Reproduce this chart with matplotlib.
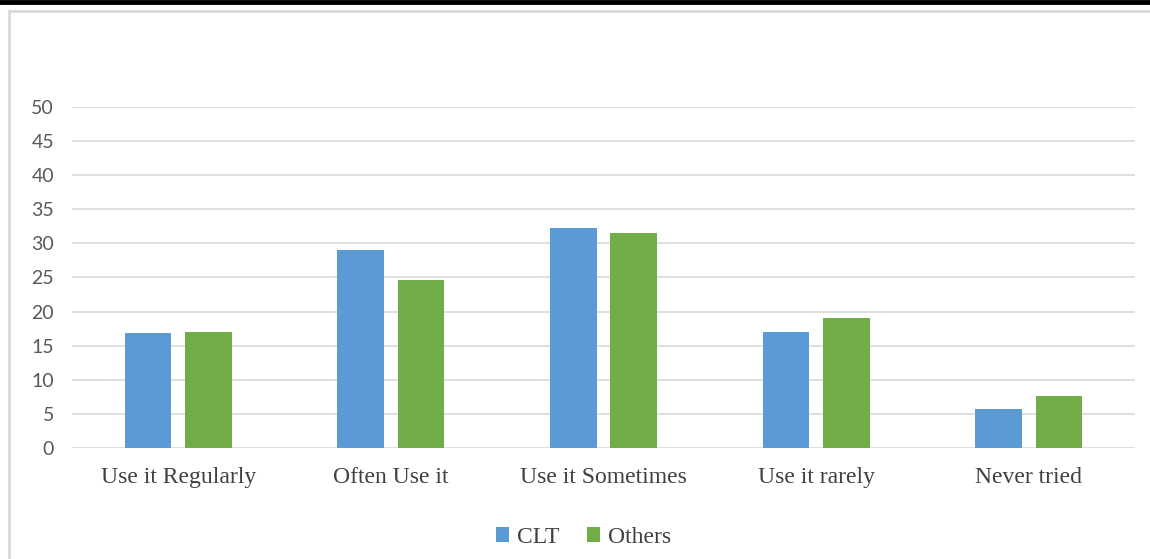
import matplotlib
matplotlib.use("Agg")
import matplotlib.pyplot as plt
from matplotlib.patches import Rectangle
from matplotlib.lines import Line2D
import numpy as np

categories = ["Use it Regularly", "Often Use it", "Use it Sometimes", "Use it rarely", "Never tried"]
clt = [16.9, 29.0, 32.3, 17.0, 5.7]
others = [17.0, 24.6, 31.5, 19.1, 7.6]
yticks = [0, 5, 10, 15, 20, 25, 30, 35, 40, 45, 50]

fig = plt.figure(figsize=(11.5, 5.59), dpi=100)
ax = fig.add_axes([0.0626, 0.1986, 0.9244, 0.61])

x = np.arange(len(categories))
w = 0.22
ax.bar(x - 0.142, clt, w, color="#5B9BD5", label="CLT", zorder=3)
ax.bar(x + 0.142, others, w, color="#70AD47", label="Others", zorder=3)

ax.set_xlim(-0.5, len(categories) - 0.5)
ax.set_ylim(0, 50)
ax.set_yticks(yticks)
ax.set_yticklabels([str(t) for t in yticks], family="Lato", fontsize=14, color="#595959")
ax.set_xticks(x)
ax.set_xticklabels(categories, family="Liberation Serif", fontsize=17, color="#404040")
ax.tick_params(axis="both", length=0)
ax.tick_params(axis="y", pad=13)
ax.tick_params(axis="x", pad=14)
ax.yaxis.grid(True, color="#D9D9D9", linewidth=1.2, zorder=0)
for s in ax.spines.values():
    s.set_visible(False)

leg = ax.legend(loc="center", bbox_to_anchor=(0.481, -0.262), ncol=2, frameon=False,
                prop={"family": "Liberation Serif", "size": 17}, handlelength=0.55,
                handleheight=0.55, handletextpad=0.35, columnspacing=1.15)
for t in leg.get_texts():
    t.set_color("#404040")

# chart frame and top rule
fig.patches.append(Rectangle((9 / 1150, -0.1), 1.2, 1 - 11 / 559 + 0.1, transform=fig.transFigure,
                             fill=False, edgecolor="#D9D9D9", linewidth=2))
fig.lines.append(Line2D([0, 1], [1 - 2 / 559, 1 - 2 / 559], transform=fig.transFigure,
                        color="black", linewidth=3.5))

fig.savefig("out.png", dpi=100)
